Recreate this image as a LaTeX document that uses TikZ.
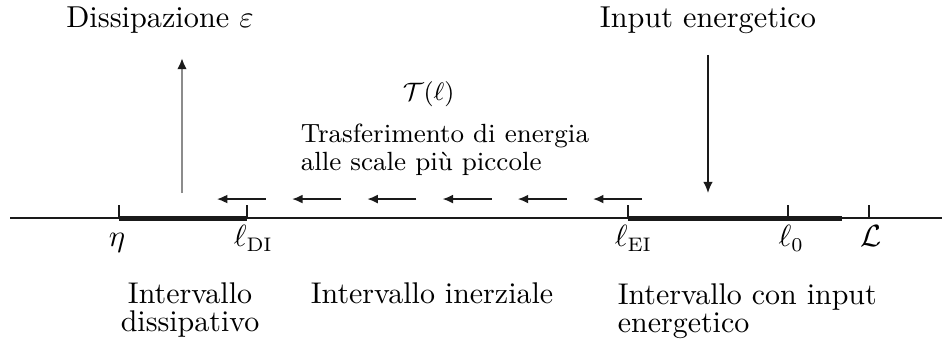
\documentclass[tikz,border=0pt]{standalone}
\usepackage{amsmath,amssymb}
\usepackage{tikz}
\usetikzlibrary{arrows.meta,positioning,calc}
\definecolor{ink}{HTML}{1A1A1A}
\definecolor{inkgray}{HTML}{8C8C8C}
\tikzset{
  axisline/.style={draw=ink,line width=0.5pt},
  tickmark/.style={draw=ink,line width=0.5pt},
  rangebar/.style={draw=ink,line width=1.8pt},
  ticklabel/.style={anchor=base,inner sep=0pt,font=\fontsize{10.5pt}{12pt}\selectfont},
  cascarr/.style={-{Latex[length=1.3mm,width=1.1mm]},line width=0.5pt,color=ink},
  fluxarr/.style={-{Latex[length=1.4mm,width=1.2mm]},line width=0.5pt,color=ink},
  dissarr/.style={-{Latex[length=1.4mm,width=1.2mm,color=ink]},line width=0.9pt,color=inkgray},
  titletext/.style={inner sep=0pt,font=\fontsize{10.8pt}{12pt}\selectfont},
  transtext/.style={inner sep=0pt,font=\fontsize{9.4pt}{10pt}\selectfont},
  rangetext/.style={inner sep=0pt,font=\fontsize{10.7pt}{9.8pt}\selectfont}
}

\begin{document}
\begin{tikzpicture}
      \useasboundingbox (0,-1.506) rectangle (11.822,2.736);

      % scale axis and ticks
      \coordinate (ax0) at (0.126,0);
      \coordinate (ax1) at (11.822,0);
      \coordinate (eta) at (1.493,0);
      \coordinate (ldi) at (3.100,0);
      \coordinate (lei) at (7.881,0);
      \coordinate (lzero) at (9.889,0);
      \coordinate (lbig) at (10.906,0);
      \coordinate (barend) at (10.567,0);
      \draw[axisline] (ax0) -- (ax1);
      \foreach \t in {eta,ldi,lei,lzero,lbig} {
        \draw[tickmark] (\t) -- ++(0,0.163);
      }
      \draw[rangebar] (eta) -- (ldi);
      \draw[rangebar] (lei) -- (barend);

      \node[ticklabel] (etalab) at (1.47,-0.36) {$\eta$};
      \node[ticklabel] (ldilab) at (3.18,-0.36) {$\ell_{\mathrm{DI}}$};
      \node[ticklabel] (leilab) at (7.95,-0.36) {$\ell_{\mathrm{EI}}$};
      \node[ticklabel] (lzerolab) at (9.93,-0.36) {$\ell_0$};
      \node[ticklabel] (lbiglab) at (10.93,-0.36) {$\mathcal{L}$};

      % energy in, energy out
      \node[titletext,anchor=base] (dissip) at (2.008,2.385) {Dissipazione $\varepsilon$};
      \node[titletext,anchor=base] (input) at (8.885,2.385) {Input energetico};
      \coordinate (dissbot) at (2.284,0.314);
      \coordinate (disstop) at (2.284,2.008);
      \coordinate (inptop) at (8.885,2.046);
      \coordinate (inpbot) at (8.885,0.314);
      \draw[dissarr] (dissbot) -- (disstop);
      \draw[fluxarr] (inptop) -- (inpbot);

      % cascade towards small scales
      \foreach \i in {0,...,5} {
        \coordinate (casc\i) at ({2.723+0.944*\i},0.238);
        \draw[cascarr] ($(casc\i)+(0.615,0)$) -- (casc\i);
      }
      \node[transtext,anchor=base,font=\fontsize{9pt}{10pt}\selectfont] (tflux) at (5.38,1.481) {$\mathcal{T}(\ell)$};
      \node[transtext,align=left,anchor=west] (transf) at (3.768,0.86)
        {Trasferimento di energia\\alle scale più piccole};

      % the three ranges
      \node[rangetext,align=center] (intdiss) at (2.385,-1.155) {Intervallo\\dissipativo};
      \node[rangetext] (intinerz) at (5.422,-0.941) {Intervallo inerziale};
      \node[rangetext,align=left,anchor=west] (intinput) at (7.746,-1.167)
        {Intervallo con input\\energetico};
\end{tikzpicture}
\end{document}
